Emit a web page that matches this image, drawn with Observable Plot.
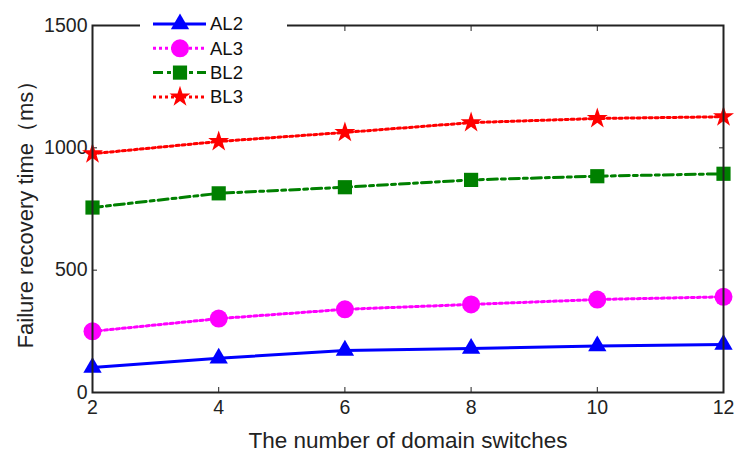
<!DOCTYPE html>
<html><head><meta charset="utf-8">
<script src="https://cdn.jsdelivr.net/npm/d3@7"></script>
<script src="https://cdn.jsdelivr.net/npm/@observablehq/plot@0.6"></script>
<style>
body{margin:0;background:#fff;}
#chart svg{font-family:"Liberation Sans",Arial,sans-serif;}
</style>
</head><body><div id="chart"></div>
<script>
const switches = [2, 4, 6, 8, 10, 12];
const AL2 = [102, 140, 172, 180, 190, 196];
const AL3 = [250, 302, 340, 360, 380, 391];
const BL2 = [756, 814, 839, 869, 884, 894];
const BL3 = [976, 1026, 1063, 1103, 1120, 1127];
const xTicks = [2, 4, 6, 8, 10, 12];
const yTicks = [0, 500, 1000, 1500];

const seriesDefs = [
  {name: "AL2", values: AL2, color: "#0000ff", dash: null, symbol: "triangle", r: 6.8},
  {name: "AL3", values: AL3, color: "#ff00ff", dash: "3,3", symbol: "circle", r: 9},
  {name: "BL2", values: BL2, color: "#008000", dash: "10,4,4,4", symbol: "square", r: 8},
  {name: "BL3", values: BL3, color: "#ff0000", dash: "3,3", symbol: "star", r: 6.6}
];

const marks = [];
for (const s of seriesDefs) {
  const data = switches.map((x, i) => ({x, y: s.values[i]}));
  marks.push(Plot.line(data, {x: "x", y: "y", stroke: s.color, strokeWidth: 3, strokeDasharray: s.dash}));
  marks.push(Plot.dot(data, {x: "x", y: "y", fill: s.color, stroke: "none", symbol: () => s.symbol, r: s.r}));
}

const fmt = d => String(d);
const plot = Plot.plot({
  width: 734, height: 453,
  marginLeft: 92, marginRight: 11, marginTop: 25, marginBottom: 61,
  style: {fontSize: "20px", fontFamily: "'Liberation Sans', Arial, sans-serif", color: "#222", background: "#fff"},
  x: {domain: [2, 12], label: null},
  y: {domain: [0, 1500], label: null},
  marks: [
    Plot.axisX({anchor: "bottom", ticks: xTicks, tickSize: -5, tickPadding: 13, tickFormat: fmt, fontSize: 19.5, fill: "#222", label: null}),
    Plot.axisX({anchor: "bottom", ticks: [], label: "The number of domain switches", labelAnchor: "center", labelArrow: "none", labelOffset: 55, fontSize: 22.5, fill: "#222"}),
    Plot.axisX({anchor: "top", ticks: xTicks, tickSize: -5, tickFormat: () => "", label: null}),
    Plot.axisY({anchor: "left", ticks: yTicks, tickSize: -5, tickPadding: 10, tickFormat: fmt, fontSize: 19.5, fill: "#222", label: null}),
    Plot.axisY({anchor: "left", ticks: [], label: "Failure recovery time（ms）", labelAnchor: "center", labelArrow: "none", labelOffset: 75, fontSize: 22, fill: "#222"}),
    Plot.axisY({anchor: "right", ticks: yTicks, tickSize: -5, tickFormat: () => "", label: null}),
    ...marks,
    Plot.frame({stroke: "#222", strokeWidth: 2, strokeOpacity: 1})
  ]
});
document.getElementById("chart").appendChild(plot);

// legend
const svg = d3.select(plot);
const lg = svg.append("g");
lg.append("rect").attr("x", 140).attr("y", 10).attr("width", 147).attr("height", 100).attr("fill", "#fff");
const sym = {triangle: d3.symbolTriangle, circle: d3.symbolCircle, square: d3.symbolSquare, star: d3.symbolStar};
seriesDefs.forEach((s, i) => {
  const y = 24 + i * 24.3;
  lg.append("line").attr("x1", 153).attr("x2", 206).attr("y1", y).attr("y2", y)
    .attr("stroke", s.color).attr("stroke-width", 3).attr("stroke-dasharray", s.dash);
  lg.append("path").attr("transform", `translate(180,${y})`)
    .attr("d", d3.symbol(sym[s.symbol], Math.PI * s.r * s.r)()).attr("fill", s.color);
  lg.append("text").attr("x", 210).attr("y", y).attr("dy", "0.35em")
    .attr("text-anchor", "start").style("font-size", "18.5px").attr("fill", "#111").text(s.name);
});
</script>
</body></html>
